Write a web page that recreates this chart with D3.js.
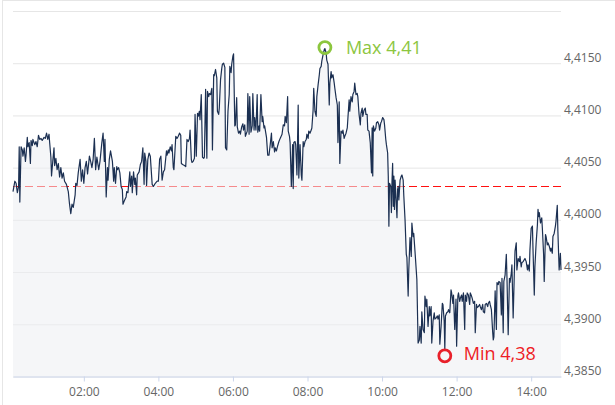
<!DOCTYPE html>
<html><head><meta charset="utf-8">
<script src="https://cdn.jsdelivr.net/npm/d3@7"></script>
<style>body{margin:0;background:#fff}svg{display:block;font-family:"Open Sans",sans-serif}</style>
</head><body><svg id="c" width="615" height="405"></svg>
<script>
// minutes after midnight for each quote
const minutes = [6,9,11,13,15,16,17,19,21,22,24,26,27,29,30,32,34,35,37,38,41,43,45,47,49,51,53,56,58,60,62,64,65,67,68,70,72,73,75,77,79,81,83,85,87,89,92,95,97,99,101,103,106,107,109,111,114,116,118,120,122,124,126,129,131,133,135,137,139,141,144,
146,149,151,153,154,156,158,159,161,163,166,168,169,171,173,174,176,178,180,182,183,185,188,189,191,194,195,197,198,200,202,203,205,206,209,211,213,215,217,218,220,221,223,225,227,230,232,235,238,240,242,244,246,248,250,253,254,256,257,259,261,262,264,265,268,270,272,274,276,277,279,282,284,286,288,290,
291,293,294,296,298,299,301,303,304,306,307,309,311,313,314,316,318,319,321,322,324,326,327,329,330,332,334,335,337,338,340,342,343,345,347,348,350,352,354,355,357,358,360,361,363,364,366,367,369,371,372,374,376,377,379,380,383,384,386,387,389,391,392,394,395,397,399,400,402,403,405,407,408,410,411,414,416,418,420,422,423,425,427,428,430,432,434,
436,439,441,443,444,446,448,449,451,452,454,456,457,458,460,461,463,465,466,468,470,471,473,474,476,478,479,481,482,484,486,487,489,490,492,494,495,497,499,500,502,503,505,507,508,510,511,513,515,516,518,519,521,523,524,526,528,529,531,532,534,536,537,539,540,542,544,545,547,548,550,552,553,555,556,558,560,561,563,565,566,568,569,571,573,574,576,577,579,
581,583,584,585,586,588,590,591,593,595,596,598,599,601,603,604,606,607,609,610,611,612,614,615,616,617,618,619,620,621,622,624,625,626,627,629,631,632,634,635,637,639,640,642,643,645,647,648,650,651,653,655,656,658,660,661,663,664,666,668,669,671,672,674,676,677,679,680,682,684,685,687,689,690,692,693,695,697,698,700,701,702,704,706,707,709,711,712,714,715,717,719,720,722,723,725,
726,728,729,731,733,734,736,737,739,741,742,744,745,747,749,750,752,753,755,757,758,760,762,763,765,766,768,770,771,773,774,776,778,779,780,782,784,785,787,788,790,792,793,795,796,798,800,801,803,805,806,808,809,811,813,814,816,817,819,821,822,824,825,827,829,830,832,834,835,837,838,840,842,843,845,846,848,850,851,852,853,855,857,858,860,861,863,864,866,867,869,871,872,874,875,877,879,880,882,883,885,887,888];

const values = [4.4027,4.4037,4.4035,4.4026,4.4032,4.4070,4.4017,4.4070,4.4067,4.4061,4.4069,4.4056,4.4062,4.4079,4.4070,4.4074,4.4054,4.4076,4.4071,4.4077,4.4072,4.4075,4.4070,4.4081,4.4077,4.4078,4.4076,4.4079,4.4078,4.4083,4.4077,4.4082,4.4074,4.4060,4.4042,4.4056,4.4069,4.4052,4.4059,4.4048,4.4054,4.4041,4.4050,4.4040,4.4045,4.4037,4.4034,4.4027,4.4015,4.4006,4.4015,4.4012,4.4024,4.4035,4.4033,4.4045,4.4058,4.4037,4.4048,4.4035,4.4050,4.4056,4.4044,4.4061,4.4056,4.4050,4.4058,4.4078,4.4048,4.4060,4.4048,
4.4056,4.4074,4.4083,4.4056,4.4077,4.4022,4.4050,4.4038,4.4058,4.4066,4.4056,4.4037,4.4050,4.4035,4.4051,4.4048,4.4050,4.4045,4.4032,4.4029,4.4015,4.4018,4.4022,4.4027,4.4026,4.4046,4.4032,4.4042,4.4026,4.4046,4.4034,4.4040,4.4024,4.4043,4.4046,4.4053,4.4056,4.4069,4.4034,4.4064,4.4056,4.4033,4.4058,4.4064,4.4061,4.4034,4.4032,4.4035,4.4037,4.4037,4.4058,4.4061,4.4038,4.4046,4.4048,4.4066,4.4062,4.4067,4.4064,4.4070,4.4066,4.4072,4.4050,4.4048,4.4080,4.4078,4.4080,4.4083,4.4081,4.4054,4.4053,4.4052,4.4051,4.4077,4.4075,4.4078,
4.4086,4.4058,4.4055,4.4056,4.4059,4.4101,4.4061,4.4102,4.4099,4.4104,4.4096,4.4120,4.4060,4.4059,4.4060,4.4125,4.4059,4.4123,4.4118,4.4121,4.4120,4.4126,4.4067,4.4139,4.4138,4.4144,4.4136,4.4104,4.4101,4.4107,4.4134,4.4145,4.4149,4.4150,4.4146,4.4069,4.4067,4.4104,4.4120,4.4147,4.4141,4.4149,4.4157,4.4159,4.4090,4.4091,4.4117,4.4089,4.4083,4.4085,4.4082,4.4089,4.4092,4.4086,4.4091,4.4080,4.4085,4.4121,4.4082,4.4118,4.4084,4.4090,4.4121,4.4086,4.4098,4.4086,4.4120,4.4084,4.4090,4.4085,4.4120,4.4094,4.4099,4.4088,4.4090,4.4079,4.4062,4.4062,4.4072,4.4083,4.4069,4.4075,4.4065,4.4069,4.4066,4.4071,4.4075,
4.4078,4.4082,4.4091,4.4090,4.4099,4.4093,4.4118,4.4085,4.4080,4.4074,4.4032,4.4072,4.4030,4.4074,4.4075,4.4072,4.4043,4.4110,4.4040,4.4072,4.4043,4.4038,4.4075,4.4070,4.4075,4.4077,4.4082,4.4078,4.4085,4.4083,4.4086,4.4088,4.4105,4.4126,4.4104,4.4099,4.4118,4.4129,4.4139,4.4145,4.4147,4.4152,4.4158,4.4163,4.4164,4.4160,4.4153,4.4149,4.4110,4.4131,4.4142,4.4136,4.4139,4.4131,4.4126,4.4117,4.4110,4.4074,4.4113,4.4054,4.4085,4.4083,4.4086,4.4078,4.4080,4.4083,4.4088,4.4097,4.4115,4.4104,4.4118,4.4113,4.4120,4.4123,4.4131,4.4120,4.4121,4.4118,4.4101,4.4091,4.4102,4.4107,4.4099,4.4105,4.4107,4.4101,4.4101,4.4086,4.4085,
4.4074,4.4045,4.4088,4.4042,4.4090,4.4085,4.4088,4.4093,4.4094,4.4091,4.4086,4.4093,4.4094,4.4098,4.4096,4.4091,4.4077,4.4072,4.4064,4.4042,4.3994,4.4035,4.4032,4.4007,4.4037,4.4054,4.4013,4.4042,4.4010,4.4038,4.4026,4.4002,4.4029,4.4032,4.4019,4.4038,4.4042,4.4043,4.4038,4.4023,4.4000,4.3967,4.3964,4.3927,4.3952,4.3983,4.3965,4.3997,4.3984,4.3987,4.3970,4.3952,4.3943,4.3882,4.3885,4.3898,4.3882,4.3912,4.3895,4.3892,4.3927,4.3917,4.3924,4.3898,4.3917,4.3908,4.3917,4.3882,4.3903,4.3911,4.3905,4.3906,4.3908,4.3905,4.3909,4.3881,4.3898,4.3920,4.3919,4.3903,4.3876,4.3908,4.3911,4.3912,4.3914,4.3911,4.3933,4.3930,4.3920,4.3928,4.3895,4.3924,4.3879,4.3927,4.3930,4.3922,
4.3925,4.3928,4.3922,4.3930,4.3895,4.3928,4.3922,4.3930,4.3928,4.3919,4.3930,4.3927,4.3925,4.3920,4.3922,4.3892,4.3919,4.3916,4.3917,4.3919,4.3917,4.3914,4.3919,4.3912,4.3911,4.3919,4.3920,4.3917,4.3920,4.3922,4.3919,4.3914,4.3893,4.3885,4.3888,4.3932,4.3895,4.3940,4.3938,4.3941,4.3940,4.3909,4.3944,4.3892,4.3941,4.3947,4.3967,4.3946,4.3890,4.3944,4.3940,4.3949,4.3957,4.3906,4.3952,4.3970,4.3978,4.3952,4.3963,4.3960,4.3965,4.3955,4.3959,4.3960,4.3962,4.3963,4.3960,4.3952,4.3957,4.3951,4.3971,4.3992,4.3994,4.3971,4.3928,4.3955,4.3978,4.3995,4.4010,4.4003,4.4007,4.3997,4.4002,4.3992,4.3967,4.3941,4.3986,4.3984,4.3976,4.3978,4.3975,4.3970,4.3973,4.3968,4.3984,4.3987,4.3994,4.3999,4.4014,4.3989,4.3952,4.3968,4.3952];

const yTickValues = [4.385, 4.390, 4.395, 4.400, 4.405, 4.410, 4.415, 4.420];
const yTickLabels = ["4,3850", "4,3900", "4,3950", "4,4000", "4,4050", "4,4100", "4,4150", ""];
const xTickLabels = ["02:00", "04:00", "06:00", "08:00", "10:00", "12:00", "14:00"];
const referenceValue = 4.4032;

const base = new Date(2024, 0, 1, 0, 0, 0);
const data = minutes.map((m, i) => ({ t: new Date(base.getTime() + m * 60000), v: values[i] }));

const L = 13, R = 561, T = 11, B = 376.5;
const svg = d3.select("#c");

// outer frame
svg.append("line").attr("x1", 2.5).attr("x2", 2.5).attr("y1", 0).attr("y2", 405).attr("stroke", "#e6e6e6");
svg.append("line").attr("x1", 2.5).attr("x2", 615).attr("y1", 0.5).attr("y2", 0.5).attr("stroke", "#e6e6e6");

const x = d3.scaleTime().domain(d3.extent(data, d => d.t)).range([L, R]);
const y = d3.scaleLinear().domain([yTickValues[0], yTickValues[yTickValues.length - 1]]).range([B, T]);

// y axis with grid
const yAxis = d3.axisRight(y).tickValues(yTickValues)
  .tickFormat((d, i) => yTickLabels[i]).tickSize(-(R - L)).tickPadding(3);
const gy = svg.append("g").attr("transform", `translate(${R},0)`).call(yAxis);
gy.select(".domain").remove();
gy.selectAll(".tick line").attr("stroke", "#e6e6e6");
gy.selectAll(".tick text").attr("fill", "#666").style("font-size", "12px")
  .style("font-family", '"Open Sans",sans-serif').attr("dy", "-2");

// reference (previous close) line
svg.append("line").attr("x1", L).attr("x2", R)
  .attr("y1", Math.round(y(referenceValue)) + 0.5).attr("y2", Math.round(y(referenceValue)) + 0.5)
  .attr("stroke", "#ff1010").attr("stroke-width", 1).attr("stroke-dasharray", "8,4");

// area & line
const area = d3.area().x(d => x(d.t)).y0(y(yTickValues[0])).y1(d => y(d.v));
svg.append("path").datum(data).attr("d", area).attr("fill", "#eceef2").attr("fill-opacity", 0.55);
const line = d3.line().x(d => x(d.t)).y(d => y(d.v));
svg.append("path").datum(data).attr("d", line).attr("fill", "none")
  .attr("stroke", "#1c3052").attr("stroke-width", 1.2).attr("stroke-linejoin", "round");

// x axis
const xAxis = d3.axisBottom(x).ticks(d3.timeHour.every(2))
  .tickFormat((d, i) => xTickLabels[i]).tickSizeInner(5).tickSizeOuter(0).tickPadding(6);
const gx = svg.append("g").attr("transform", `translate(0,${B})`).call(xAxis);
gx.select(".domain").attr("stroke", "#ccd6eb");
gx.selectAll(".tick line").attr("stroke", "#ccd6eb");
gx.selectAll(".tick text").attr("fill", "#666").style("font-size", "12px")
  .style("font-family", '"Open Sans",sans-serif');

// min / max markers
const fmt = v => (Math.floor(v * 100) / 100).toFixed(2).replace(".", ",");
const iMax = d3.maxIndex(values), iMin = d3.minIndex(values);
const mx = x(data[iMax].t), my = y(values[iMax]) - 1;
const nx = x(data[iMin].t), ny = y(values[iMin]) + 6.5;
svg.append("circle").attr("cx", mx).attr("cy", my).attr("r", 6)
  .attr("fill", "none").attr("stroke", "#8cc63e").attr("stroke-width", 2.8);
svg.append("text").attr("x", mx + 21).attr("y", my + 6).attr("fill", "#8dc63f")
  .style("font-size", "18px").text("Max " + fmt(values[iMax]));
svg.append("circle").attr("cx", nx).attr("cy", ny).attr("r", 6)
  .attr("fill", "none").attr("stroke", "#e8202a").attr("stroke-width", 2.8);
svg.append("text").attr("x", nx + 19).attr("y", ny + 4.5).attr("fill", "#ee1c25")
  .style("font-size", "18px").text("Min " + fmt(values[iMin]));
</script></body></html>
